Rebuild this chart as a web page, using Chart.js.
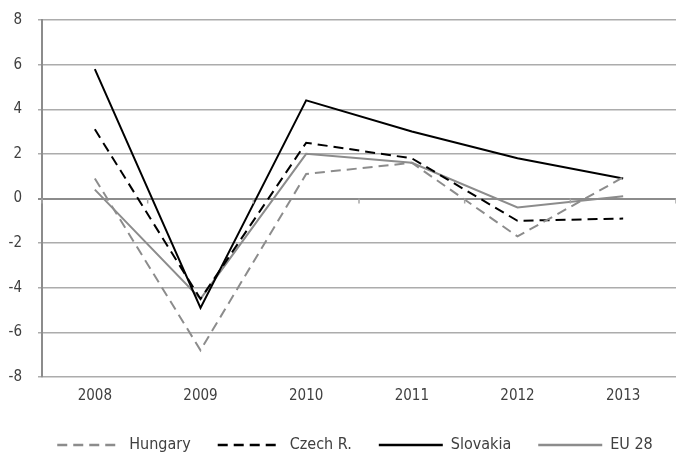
<!DOCTYPE html>
<html>
<head>
<meta charset="utf-8">
<script src="https://cdn.jsdelivr.net/npm/chart.js@4/dist/chart.umd.min.js"></script>
<style>
  html, body { margin: 0; padding: 0; background: #fff; }
  #wrap { width: 676px; height: 454px; }
</style>
</head>
<body>
<div id="wrap"><canvas id="lineChart"></canvas></div>
<script>
// values
var years = ["2008", "2009", "2010", "2011", "2012", "2013"];
var hungary = [0.9, -6.8, 1.1, 1.6, -1.7, 0.95];
var czech = [3.1, -4.5, 2.5, 1.8, -1.0, -0.9];
var slovakia = [5.8, -4.9, 4.4, 3.0, 1.8, 0.9];
var eu28 = [0.4, -4.5, 2.0, 1.6, -0.4, 0.1];
var yTicks = [-8, -6, -4, -2, 0, 2, 4, 6, 8];

var FONT = "'Liberation Sans Narrow', 'DejaVu Sans Condensed', sans-serif";
var GREY = "#8c8c8c";

function line(label, data, color, dash) {
  return {
    label: label,
    data: data,
    borderColor: color,
    backgroundColor: color,
    borderWidth: 2,
    borderDash: dash,
    pointRadius: 0,
    tension: 0,
    fill: false
  };
}

// small tick marks below the zero line, between categories (excel style)
var zeroTicks = {
  id: "zeroTicks",
  afterLayout: function(chart) {
    // legend in the reference sits a bit right of the canvas centre
    chart.legend.left += 15;
    chart.legend.right += 15;
  },
  afterDatasetsDraw: function(chart) {
    var x = chart.scales.x, y = chart.scales.y;
    var c = chart.ctx;
    var y0 = y.getPixelForValue(0);
    c.save();
    c.strokeStyle = "#a6a6a6";
    c.lineWidth = 1.5;
    for (var i = 0; i <= years.length; i++) {
      var px = x.getPixelForValue(i - 0.5);
      c.beginPath();
      c.moveTo(px, y0);
      c.lineTo(px, y0 + 5);
      c.stroke();
    }
    c.restore();
  }
};

var ctx = document.getElementById("lineChart");
var chart = new Chart(ctx, {
  type: "line",
  data: {
    labels: years,
    datasets: [
      line("Hungary", hungary, GREY, [10, 6]),
      line("Czech R.", czech, "#000000", [10, 6]),
      line("Slovakia", slovakia, "#000000", []),
      line("EU 28", eu28, GREY, [])
    ]
  },
  options: {
    responsive: true,
    maintainAspectRatio: false,
    animation: false,
    layout: { padding: { left: 0, right: -4, top: 20, bottom: -9 } },
    plugins: {
      tooltip: { enabled: false },
      legend: {
        position: "bottom",
        labels: {
          usePointStyle: true,
          pointStyle: "line",
          pointStyleWidth: 64,
          boxWidth: 64,
          padding: 27,
          color: "#404040",
          font: { family: FONT, size: 16 },
          generateLabels: function(chart) {
            return chart.data.datasets.map(function(ds, i) {
              return {
                text: ds.label,
                datasetIndex: i,
                pointStyle: "line",
                strokeStyle: ds.borderColor,
                fillStyle: ds.borderColor,
                lineWidth: 2.5,
                lineDash: ds.borderDash,
                fontColor: "#404040",
                hidden: false
              };
            });
          }
        }
      }
    },
    scales: {
      x: {
        offset: true,
        afterFit: function(scale) { scale.height = 33; },
        grid: { display: false, drawTicks: false },
        border: { display: false },
        ticks: { color: "#404040", font: { family: FONT, size: 15 }, padding: 10 }
      },
      y: {
        min: -8,
        max: 8,
        afterBuildTicks: function(scale) {
          scale.ticks = yTicks.map(function(v) { return { value: v }; });
        },
        afterFit: function(scale) {
          scale.width = 42;
          // tick padding would otherwise push the plot top down
          scale.paddingTop = 0;
          scale.paddingBottom = 0;
        },
        grid: {
          color: function(c) { return c.tick && c.tick.value === 0 ? "#8c8c8c" : "#acacac"; },
          lineWidth: function(c) { return c.tick && c.tick.value === 0 ? 2 : 1.5; },
          tickLength: 4
        },
        border: { color: "#8c8c8c", width: 2 },
        ticks: { color: "#404040", font: { family: FONT, size: 15 }, padding: 16 }
      }
    }
  },
  plugins: [zeroTicks]
});
</script>
</body>
</html>
